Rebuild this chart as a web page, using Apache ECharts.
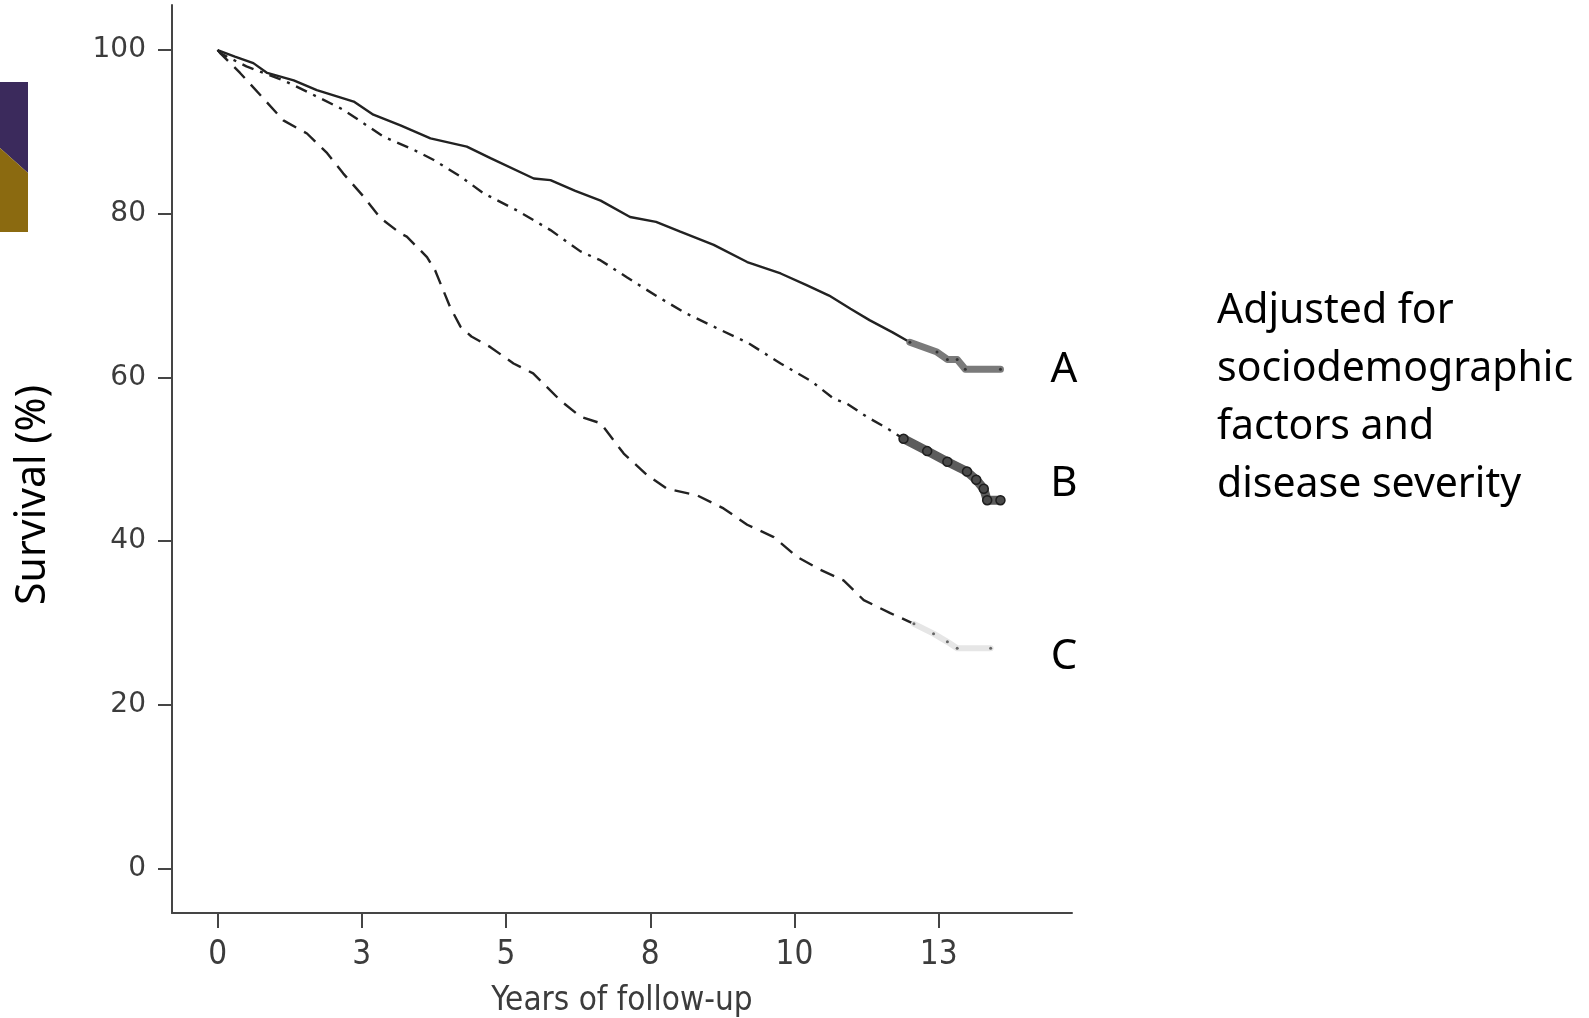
<!DOCTYPE html>
<html>
<head>
<meta charset="utf-8">
<script src="https://cdn.jsdelivr.net/npm/echarts@6/dist/echarts.min.js"></script>
<style>
html,body{margin:0;padding:0;background:#fff;}
#chart{width:1589px;height:1018px;}
</style>
</head>
<body>
<div id="chart"></div>
<script>
// ---- data ----
const seriesNames = ['A', 'B', 'C'];
const xTickValues = [0, 2.5, 5, 7.5, 10, 12.5];
const xTickLabels = ['0', '3', '5', '8', '10', '13'];
const yTickValues = [0, 20, 40, 60, 80, 100];
const xTitle = 'Years of follow-up';
const yTitle = 'Survival (%)';
const noteLines = ['Adjusted for', 'sociodemographic', 'factors and', 'disease severity'];

// [years, survival %]
const curveA = [[0,100],[0.3,99.2],[0.62,98.4],[0.86,97.2],[1.32,96.3],[1.72,95.1],[2.36,93.7],[2.7,92.1],[3.17,90.8],[3.69,89.2],[4.32,88.2],[4.73,86.8],[5.48,84.3],[5.77,84.1],[6.2,82.8],[6.64,81.6],[7.15,79.6],[7.6,79.0],[8.02,77.8],[8.6,76.2],[9.18,74.1],[9.76,72.7],[10.2,71.3],[10.6,70.0],[10.97,68.4],[11.3,67.0],[11.7,65.5],[12.0,64.3],[12.47,63.1],[12.65,62.2],[12.82,62.2],[12.96,61.0],[13.57,61.0]];
const curveB = [[0,100],[0.05,99.6],[0.5,98.0],[1.14,96.3],[1.61,94.7],[2.18,92.7],[2.88,89.4],[3.4,87.8],[3.74,86.6],[4.2,84.6],[4.61,82.5],[5.19,80.4],[5.77,78.0],[6.29,75.4],[6.64,74.3],[7.1,72.2],[7.62,69.9],[8.1,67.9],[8.6,66.2],[9.2,64.2],[9.76,61.7],[10.3,59.5],[10.68,57.4],[10.91,56.8],[11.25,55.2],[11.6,53.8],[11.89,52.5],[12.3,51.0],[12.65,49.7],[12.99,48.5],[13.15,47.5],[13.28,46.4],[13.34,45.0],[13.57,45.0]];
const curveC = [[0,100],[0.05,99.6],[0.39,97.2],[0.74,94.5],[1.14,91.4],[1.55,89.8],[1.9,87.4],[2.18,84.9],[2.53,82.1],[2.82,79.5],[3.17,77.6],[3.28,77.2],[3.63,74.7],[3.77,73.1],[4.03,68.6],[4.21,66.2],[4.4,65.0],[4.73,63.7],[5.13,61.7],[5.47,60.5],[5.94,57.2],[6.29,55.2],[6.64,54.4],[7.04,50.7],[7.44,48.1],[7.79,46.4],[8.31,45.6],[8.77,44.0],[9.18,42.0],[9.64,40.5],[10.04,38.1],[10.45,36.5],[10.85,35.2],[11.2,32.8],[11.66,31.2],[12.07,29.9],[12.41,28.7],[12.65,27.7],[12.82,26.9],[13.4,26.9]];
// censored tail starts (years)
const tailStart = [12.0, 11.89, 12.07];

// ---- chart ----
const chart = echarts.init(document.getElementById('chart'), null, {renderer: 'canvas'});
const curves = [curveA, curveB, curveC];
const tails = curves.map((c, i) => c.filter(p => p[0] >= tailStart[i]));
const axisColor = '#454545';
const lineColor = '#222';
const condensed = "'DejaVu Sans Condensed', 'DejaVu Sans'";

function labelFor(v) {
  const i = xTickValues.findIndex(t => Math.abs(t - v) < 1e-6);
  return i >= 0 ? xTickLabels[i] : '';
}

const endLabelY = [370, 484, 657];

const option = {
  animation: false,
  backgroundColor: '#fff',
  grid: {left: 172, right: 517, top: 5, bottom: 105, containLabel: false, outerBoundsMode: 'none'},
  xAxis: {
    type: 'value', min: -0.79, max: 14.81,
    splitLine: {show: false},
    axisLine: {onZero: false, lineStyle: {color: axisColor, width: 2}},
    axisTick: {show: true, customValues: xTickValues, length: 15, lineStyle: {color: axisColor, width: 2}},
    axisLabel: {customValues: xTickValues, formatter: v => labelFor(v), margin: 26, fontSize: 33,
      fontFamily: condensed, color: '#3c3c3c'},
    name: xTitle, nameLocation: 'middle', nameGap: 72,
    nameTextStyle: {fontSize: 33, fontFamily: condensed, color: '#3c3c3c'}
  },
  yAxis: {
    type: 'value', min: -5.43, max: 105.5,
    splitLine: {show: false},
    axisLine: {show: true, onZero: false, lineStyle: {color: axisColor, width: 2}},
    axisTick: {show: true, customValues: yTickValues, length: 14, lineStyle: {color: axisColor, width: 2}},
    axisLabel: {customValues: yTickValues, margin: 26, fontSize: 28, padding: [6, 0, 0, 0],
      fontFamily: "'DejaVu Sans'", color: '#3c3c3c'}
  },
  series: [
    {name: seriesNames[0], type: 'line', data: curveA, showSymbol: false, z: 2,
      lineStyle: {color: lineColor, width: 2.4, type: 'solid'}},
    {name: seriesNames[1], type: 'line', data: curveB, showSymbol: false, z: 2,
      lineStyle: {color: lineColor, width: 2.4, type: [12, 7, 3, 7]}},
    {name: seriesNames[2], type: 'line', data: curveC, showSymbol: false, z: 2,
      lineStyle: {color: lineColor, width: 2.4, type: [15, 9]}},
    {name: seriesNames[0] + ' censored', type: 'line', data: tails[0], z: 3,
      symbol: 'circle', symbolSize: 3, itemStyle: {color: '#333'},
      lineStyle: {color: '#7a7a7a', width: 7, cap: 'round', join: 'round'}},
    {name: seriesNames[1] + ' censored', type: 'line', data: tails[1], z: 3,
      symbol: 'circle', symbolSize: 9, itemStyle: {color: '#4a4a4a', borderColor: '#1e1e1e', borderWidth: 1.5},
      lineStyle: {color: '#5c5c5c', width: 9, cap: 'round', join: 'round'}},
    {name: seriesNames[2] + ' censored', type: 'line', data: tails[2], z: 3,
      symbol: 'circle', symbolSize: 3, itemStyle: {color: '#666'},
      lineStyle: {color: '#e6e6e6', width: 6, cap: 'round', join: 'round'}}
  ],
  graphic: [
    {type: 'polygon', shape: {points: [[0,82],[28,82],[28,173],[0,148]]}, style: {fill: '#3b2a5c'}},
    {type: 'polygon', shape: {points: [[0,148],[28,173],[28,232],[0,232]]}, style: {fill: '#8b6a10'}},
    {type: 'text', x: 33, y: 495, rotation: Math.PI / 2,
      style: {text: yTitle, fontSize: 41, fontFamily: "'Noto Sans'", fill: '#000', align: 'center', verticalAlign: 'middle'}},
    {type: 'text', x: 1217, y: 282,
      style: {text: noteLines.join('\n'), fontSize: 41, lineHeight: 58, fontFamily: "'Noto Sans'", fill: '#000', align: 'left', verticalAlign: 'top'}},
    ...seriesNames.map((n, i) => ({type: 'text', x: 1064, y: endLabelY[i],
      style: {text: n, fontSize: 42, fontFamily: "'Noto Sans'", fill: '#000', align: 'center', verticalAlign: 'middle'}}))
  ]
};
chart.setOption(option);
</script>
</body>
</html>
